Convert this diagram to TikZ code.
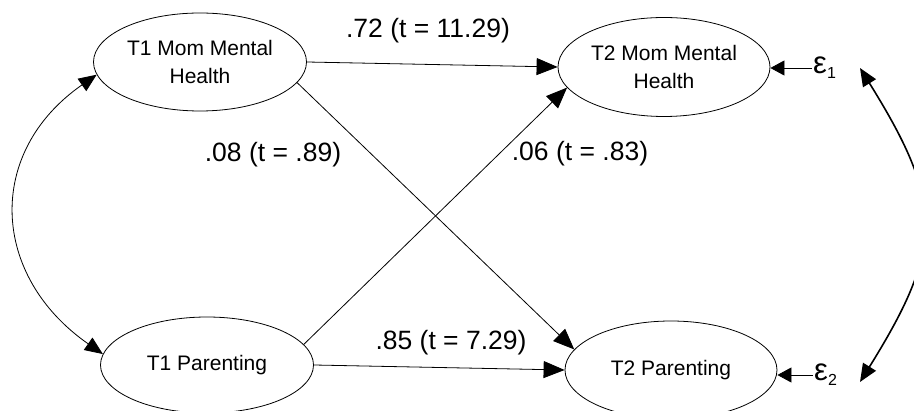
\documentclass[tikz,border=0pt]{standalone}
\usepackage{fontspec}
\setmainfont{Liberation Sans}
\usetikzlibrary{shapes.geometric,arrows.meta}
\begin{document}
\begin{tikzpicture}[x=1pt,y=-1pt,
  latent/.style={draw,ellipse,inner sep=0pt,line width=0.8pt,align=center,
    font=\fontsize{21}{28}\selectfont},
  coef/.style={font=\fontsize{26.5}{30}\selectfont,inner sep=0pt},
  errlab/.style={inner sep=1pt,anchor=west},
  bigtip/.tip={Triangle[length=21pt,width=17pt]},
  smalltip/.tip={Triangle[length=14pt,width=15pt]},
  covtip/.tip={Triangle[length=18pt,width=15pt]},
  path/.style={line width=0.8pt,-bigtip},
  errpath/.style={line width=0.8pt,-smalltip},
  cov/.style={line width=0.8pt,covtip-covtip},
  covthick/.style={line width=1.6pt,covtip-covtip}]
\useasboundingbox (0,0) rectangle (914,411);
\clip (0,0) rectangle (914,411);
\node[latent,minimum width=213pt,minimum height=98pt] (m1) at (200,62) {T1 Mom Mental\\Health};
\node[latent,minimum width=212pt,minimum height=99pt] (m2) at (664,67) {T2 Mom Mental\\Health};
\node[latent,minimum width=213pt,minimum height=96pt] (p1) at (207,365) {T1 Parenting};
\node[latent,minimum width=212pt,minimum height=98pt] (p2) at (671,370) {T2 Parenting};
\node[errlab] (e1) at (812,68) {{\fontsize{31}{34}\selectfont ε}{\fontsize{16}{18}\selectfont\raisebox{-5pt}{1}}};
\node[errlab] (e2) at (813,375) {{\fontsize{31}{34}\selectfont ε}{\fontsize{16}{18}\selectfont\raisebox{-5pt}{2}}};
\coordinate (r1) at (860,68);
\coordinate (r2) at (860,382);
\node[coef] (l72) at (428,31) {.72 (t = 11.29)};
\node[coef] (l08) at (273,155) {.08 (t = .89)};
\node[coef] (l06) at (580,154) {.06 (t = .83)};
\node[coef] (l85) at (451,343) {.85 (t = 7.29)};
\draw[path] (m1.east) -- (m2.west);
\draw[path] (m1.-12) -- (p2.168);
\draw[path] (p1.12) -- (m2.192);
\draw[path] (p1.east) -- (p2.west);
\draw[errpath] (e1.west) -- (e1.west -| m2.east);
\draw[errpath] (e2.west) -- (e2.west -| p2.east);
\draw[cov] (m1.187) .. controls +(-112,78) and +(-112,-78) .. (p1.174);
\draw[covthick] (r1) .. controls +(84,135) and +(84,-135) .. (r2);
\end{tikzpicture}
\end{document}
